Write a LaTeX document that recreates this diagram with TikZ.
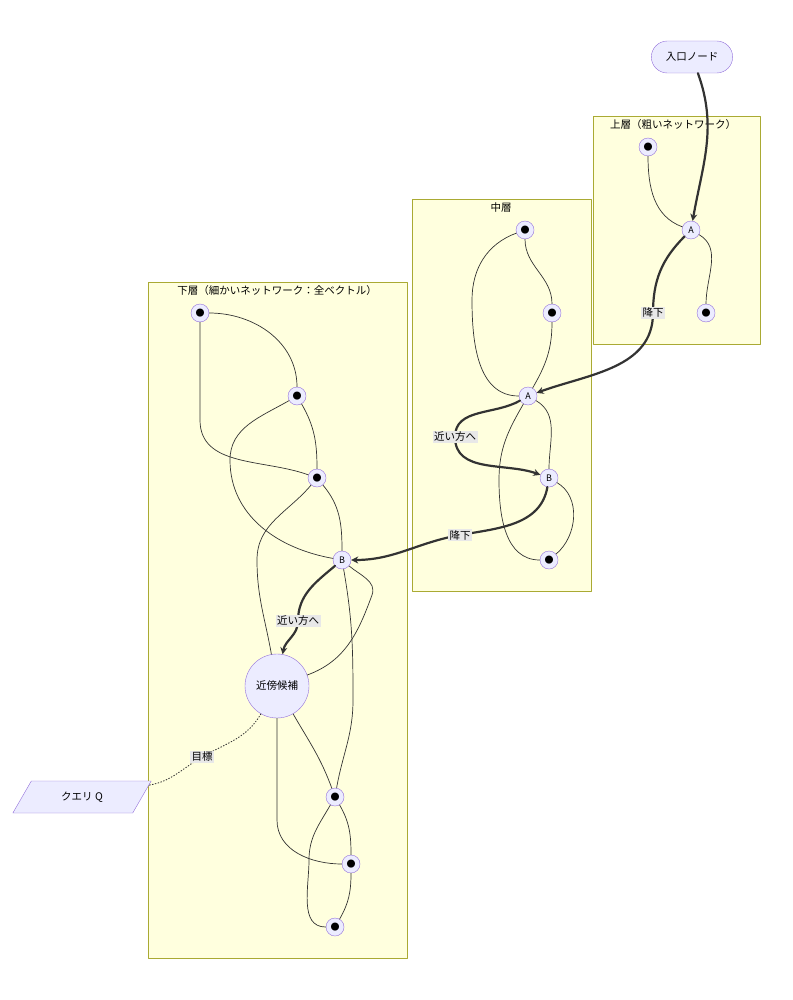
\documentclass[tikz,border=0pt]{standalone}
\usepackage{fontspec}
\setmainfont{Noto Sans CJK JP}
\usetikzlibrary{arrows.meta,shapes.geometric,shapes.misc}
\definecolor{nodefill}{HTML}{ECECFF}
\definecolor{nodeline}{HTML}{9370DB}
\definecolor{groupfill}{HTML}{FFFFDE}
\definecolor{groupline}{HTML}{AAAA33}
\definecolor{lblbg}{HTML}{E8E8E8}
\definecolor{ink}{HTML}{333333}
\tikzset{
  pt/.style={circle,draw=nodeline,fill=nodefill,minimum size=18pt,inner sep=0pt,font=\fontsize{9}{10}\selectfont},
  group/.style={draw=groupline,fill=groupfill},
  thin/.style={draw=ink,line width=0.7pt},
  thick/.style={draw=ink,line width=2.2pt,-{Stealth[length=7pt,width=7pt]}},
  lbl/.style={fill=lblbg,inner sep=1.5pt,font=\fontsize{10.5}{12}\selectfont},
}
\begin{document}
\begin{tikzpicture}[x=1pt,y=-1pt,line cap=round,line join=round,font=\fontsize{10.5}{12}\selectfont]
\useasboundingbox (0,0) rectangle (792,1000);
% groups
\draw[group] (593,116) rectangle (760,344);
\node at (673,125) {上層（粗いネットワーク）};
\draw[group] (412,199) rectangle (591,591);
\node at (501,208) {中層};
\draw[group] (148,282) rectangle (407,958);
\node at (277,291) {下層（細かいネットワーク：全ベクトル）};
% nodes
\node[rounded rectangle,draw=nodeline,fill=nodefill,minimum width=88pt,minimum height=32pt] (entry) at (692,57) {入口ノード};
\node[pt] (u1) at (648,147) {●};
\node[pt] (uA) at (691,230) {A};
\node[pt] (u3) at (706,313) {●};
\node[pt] (m1) at (525,230) {●};
\node[pt] (m2) at (552,313) {●};
\node[pt] (mA) at (528,396) {A};
\node[pt] (mB) at (549,478) {B};
\node[pt] (m5) at (549,560) {●};
\node[pt] (l1) at (200,313) {●};
\node[pt] (l2) at (297,396) {●};
\node[pt] (l3) at (317,478) {●};
\node[pt] (lB) at (342,560) {B};
\node[circle,draw=nodeline,fill=nodefill,minimum size=64pt,inner sep=0pt] (near) at (277,686) {近傍候補};
\node[pt] (l6) at (335,797) {●};
\node[pt] (l7) at (351,864) {●};
\node[pt] (l8) at (335,927) {●};
\node[trapezium,trapezium left angle=60,trapezium right angle=120,draw=nodeline,fill=nodefill,minimum width=96pt,minimum height=32pt,inner sep=2pt] (query) at (82,797) {クエリ Q};
% upper
\draw[thin] (u1) to[out=-90,in=160] (uA);
\draw[thin] (uA) to[out=-30,in=90] (u3);
\draw[thick] (entry) to[out=-70,in=80] (uA);
\draw[thick] (uA) to[out=-135,in=90] (653,313) to[out=-90,in=20] (mA);
\node[lbl] at (653,313) {降下};
% middle
\draw[thin] (m1) to[out=-90,in=90] (m2);
\draw[thin] (m1) to[out=-160,in=90] (472,300) to[out=-90,in=180] (mA);
\draw[thin] (m2) to[out=-90,in=60] (mA);
\draw[thick] (mA) to[out=-150,in=90] (455,437) to[out=-90,in=160] (mB);
\node[lbl] at (455,437) {近い方へ};
\draw[thin] (mA) to[out=-30,in=90] (mB);
\draw[thin] (mA) to[out=-120,in=90] (499,480) to[out=-90,in=180] (m5);
\draw[thin] (mB) to[out=-30,in=40] (m5);
\draw[thick] (mB) to[out=-100,in=10] (460,535) to[out=-170,in=0] (lB);
\node[lbl] at (460,535) {降下};
% lower
\draw[thin] (l1) to[out=0,in=90] (l2);
\draw[thin] (l1) to[out=-90,in=90] (200,420) to[out=-90,in=160] (l3);
\draw[thin] (l2) to[out=-60,in=90] (l3);
\draw[thin] (l2) to[out=-150,in=90] (230,460) to[out=-90,in=170] (lB);
\draw[thin] (l3) to[out=-130,in=90] (257,560) to[out=-90,in=100] (near);
\draw[thin] (l3) to[out=-50,in=90] (lB);
\draw[thick] (lB) to[out=-140,in=90] (298,621) to[out=-90,in=80] (near);
\node[lbl] at (298,621) {近い方へ};
\draw[thin] (lB) to[out=-40,in=70] (372,595) to[out=-110,in=20] (near);
\draw[thin] (lB) to[out=-80,in=90] (353,700) to[out=-90,in=80] (l6);
\draw[thin] (near) to[out=-60,in=110] (l6);
\draw[thin] (near) to[out=-90,in=90] (277,820) to[out=-90,in=180] (l7);
\draw[thin] (l6) to[out=-60,in=90] (l7);
\draw[thin] (l6) to[out=-120,in=90] (309,860) to[out=-90,in=180] (l8);
\draw[thin] (l7) to[out=-90,in=60] (l8);
\draw[ink,line width=0.9pt,dotted] (near) to[out=-120,in=30] (202,757) to[out=-150,in=10] (query);
\node[lbl] at (202,757) {目標};
\end{tikzpicture}
\end{document}
